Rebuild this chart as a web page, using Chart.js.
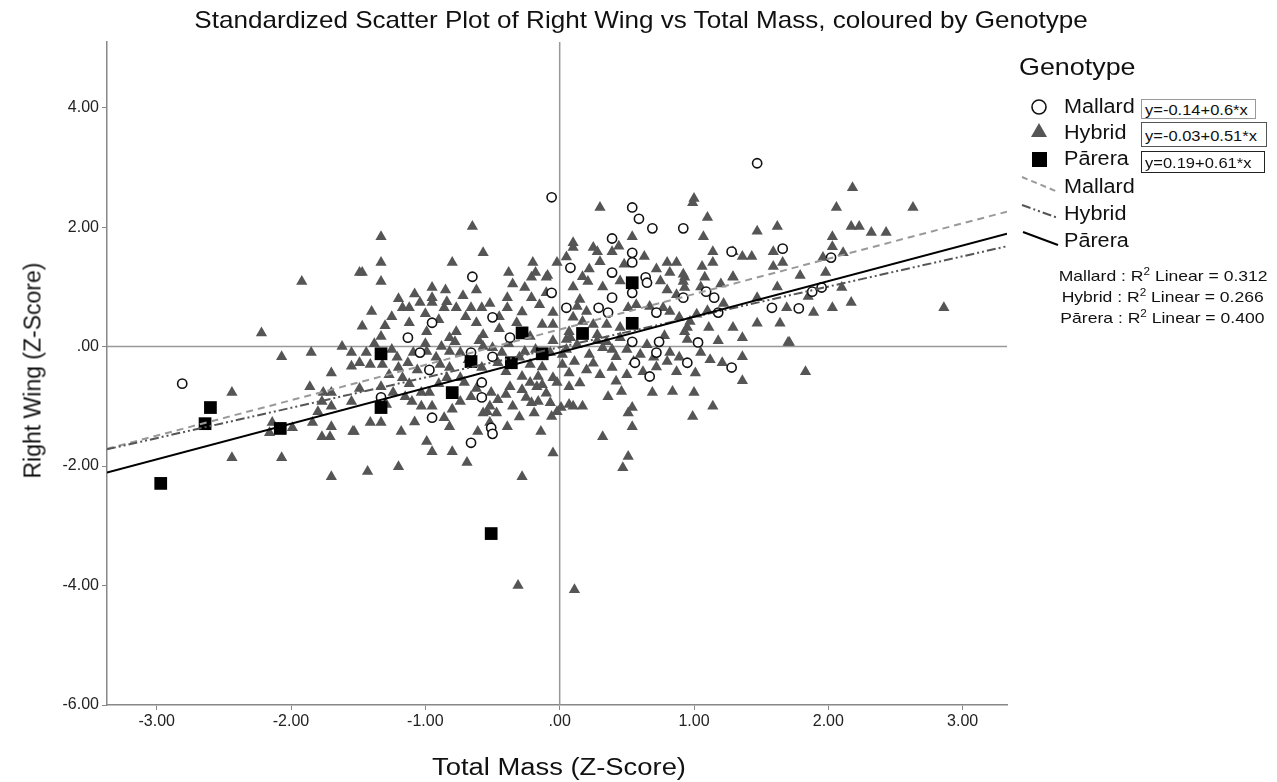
<!DOCTYPE html>
<html>
<head>
<meta charset="utf-8">
<script src="https://cdn.jsdelivr.net/npm/chart.js@4/dist/chart.umd.min.js"></script>
<style>
  html, body { margin: 0; padding: 0; background: #fff; }
  #wrap { position: relative; width: 1277px; height: 782px; font-family: "Liberation Sans", Arial, sans-serif; color: #111; }
  #chart { position: absolute; left: 0; top: 0; }
  .txt { position: absolute; white-space: nowrap; }
  .lg { position: absolute; white-space: nowrap; font-size: 20px; transform: scaleX(1.08); transform-origin: left center; }
  .eq { position: absolute; box-sizing: border-box; background: #fff; }
  .eq span { position: absolute; left: 3px; top: 50%; font-size: 15px; white-space: nowrap; transform: translateY(-50%) scaleX(1.1); transform-origin: left center; }
  .r2 { position: absolute; white-space: nowrap; font-size: 15px; transform: scaleX(1.17); transform-origin: right center; }
</style>
</head>
<body>
<div id="wrap">
  <canvas id="chart" width="1277" height="782"></canvas>

  <div class="txt" style="left:0; width:1282px; top:6px; text-align:center; font-size:24px; transform:scaleX(1.086);">Standardized Scatter Plot of Right Wing vs Total Mass, coloured by Genotype</div>
  <div class="txt" style="left:419px; width:280px; top:754px; text-align:center; font-size:23px; transform:scaleX(1.19);">Total Mass (Z-Score)</div>
  <div class="txt" style="left:-107px; width:280px; top:357px; text-align:center; font-size:23px; transform:rotate(-90deg);">Right Wing (Z-Score)</div>

  <!-- legend -->
  <div class="txt" style="left:1019px; top:53px; font-size:24px; transform:scaleX(1.12); transform-origin:left center;">Genotype</div>
  <svg style="position:absolute; left:1015px; top:95px;" width="50" height="155">
    <circle cx="24" cy="12" r="7" fill="#fff" stroke="#111" stroke-width="1.6"/>
    <polygon points="24,28 32,42 16,42" fill="#555"/>
    <rect x="17" y="57" width="15" height="15" fill="#000"/>
    <line x1="7" y1="82" x2="43" y2="97" stroke="#999" stroke-width="2" stroke-dasharray="6,4"/>
    <line x1="7" y1="110" x2="43" y2="123" stroke="#555" stroke-width="2" stroke-dasharray="9,3,2,3,2,3"/>
    <line x1="8" y1="137" x2="43" y2="150" stroke="#000" stroke-width="2"/>
  </svg>
  <div class="lg" style="left:1064px; top:95px;">Mallard</div>
  <div class="lg" style="left:1064px; top:121px;">Hybrid</div>
  <div class="lg" style="left:1064px; top:147px;">Pārera</div>
  <div class="lg" style="left:1064px; top:175px;">Mallard</div>
  <div class="lg" style="left:1064px; top:202px;">Hybrid</div>
  <div class="lg" style="left:1064px; top:229px;">Pārera</div>
  <div class="eq" style="left:1141px; top:99px; width:115px; height:20px; border:1.5px solid #999;"><span>y=-0.14+0.6*x</span></div>
  <div class="eq" style="left:1141px; top:122px; width:126px; height:25px; border:1.5px solid #555;"><span>y=-0.03+0.51*x</span></div>
  <div class="eq" style="left:1141px; top:151px; width:124px; height:22px; border:1.5px solid #222;"><span>y=0.19+0.61*x</span></div>
  <div class="r2" style="right:9px; top:266px;">Mallard : R<sup style="font-size:10px;">2</sup> Linear = 0.312</div>
  <div class="r2" style="right:13px; top:287px;">Hybrid : R<sup style="font-size:10px;">2</sup> Linear = 0.266</div>
  <div class="r2" style="right:13px; top:308px;">Pārera : R<sup style="font-size:10px;">2</sup> Linear = 0.400</div>
</div>

<script>
// axis ticks
const xTicks = [-3, -2, -1, 0, 1, 2, 3];
const yTicks = [-6, -4, -2, 0, 2, 4];

// Mallard (open circles) - [total mass z, right wing z]
const mallard = [
  [-2.81, -0.62], [-0.06, 2.50], [-0.65, 1.17], [0.08, 1.32], [-0.06, 0.90], [0.05, 0.65],
  [-0.50, 0.49], [-0.95, 0.40], [-0.37, 0.15], [-1.13, 0.15], [-1.04, -0.10], [-0.66, -0.10],
  [-0.50, -0.17], [-0.97, -0.39], [-1.33, -0.85], [-0.58, -0.85], [-0.95, -1.19], [-0.51, -1.36],
  [-0.50, -1.46], [-0.66, -1.61], [-0.58, -0.60], [1.47, 3.07], [0.54, 2.33], [0.59, 2.14],
  [0.69, 1.98], [0.92, 1.98], [0.39, 1.81], [0.54, 1.57], [0.54, 1.41], [0.39, 1.24],
  [1.66, 1.64], [1.28, 1.59], [0.64, 1.16], [0.65, 1.07], [0.54, 0.90], [0.39, 0.82],
  [0.29, 0.65], [0.36, 0.57], [0.72, 0.57], [0.92, 0.82], [1.09, 0.92], [1.15, 0.82],
  [1.18, 0.57], [1.58, 0.65], [0.54, 0.08], [0.74, 0.08], [1.03, 0.07], [0.72, -0.10],
  [0.56, -0.27], [0.95, -0.27], [1.28, -0.35], [0.67, -0.50], [2.02, 1.49], [1.88, 0.92],
  [1.95, 0.99], [1.78, 0.64]
];

// Hybrid (grey triangles)
const hybrid = [
  [-1.92, 1.09], [-2.22, 0.23], [-2.07, -0.17], [-1.85, -0.10], [-1.62, 0.00], [-1.55, -0.33],
  [-1.70, -0.44], [-2.44, -0.77], [-1.86, -0.67], [-1.76, -0.77], [-1.70, -0.77], [-1.77, -0.92],
  [-1.70, -1.00], [-1.55, -0.92], [-1.80, -1.09], [-1.84, -1.27], [-2.14, -1.27], [-1.99, -1.36],
  [-2.16, -1.44], [-1.77, -1.51], [-1.71, -1.51], [-1.70, -1.34], [-1.54, -1.42], [-2.44, -1.86],
  [-2.07, -1.86], [-1.70, -2.18],
  [-1.33, 1.84], [-1.33, 1.41], [-1.47, 1.24], [-1.49, 1.24], [-0.65, 2.01], [-0.57, 1.57],
  [-0.80, 1.41], [-0.38, 1.24], [-0.20, 1.41], [-0.18, 1.24], [-0.09, 1.19], [-0.02, 1.41],
  [0.10, 1.74], [0.10, 1.66],
  [-1.33, 1.09], [-0.95, 0.99], [-0.95, 0.82], [-0.95, 0.74], [-1.04, 0.74], [-1.17, 0.65],
  [-1.12, 0.65], [-1.40, 0.59], [-1.25, 0.50], [-1.47, 0.34], [-1.33, 0.17], [-0.84, 0.75],
  [-0.77, 0.65], [-0.86, 0.65], [-0.66, 0.65], [-0.58, 0.65], [-0.39, 0.82], [-0.39, 0.65],
  [-0.21, 0.82], [-0.26, 0.99], [-0.10, 1.16], [-0.21, 1.16], [-0.62, 0.40], [-0.77, 0.25],
  [-0.82, 0.15], [-0.99, 0.25], [-0.57, 0.20], [-0.13, 0.37], [-0.05, 0.37], [-0.05, 0.57],
  [0.07, 0.25], [-0.22, 0.17], [-1.55, -0.10], [-1.44, -0.10], [-1.21, -0.18], [-1.09, -0.10],
  [-0.99, -0.08], [-0.88, 0.00], [-0.82, -0.08], [-0.74, -0.10], [-0.57, 0.00], [-0.50, -0.02],
  [-0.43, -0.10], [-0.26, -0.08], [-0.07, -0.10], [0.02, -0.13], [-1.49, -0.27], [-1.41, -0.30],
  [-1.32, -0.30], [-1.13, -0.27], [-1.06, -0.39], [-0.89, -0.30], [-0.82, -0.35], [-0.58, -0.35],
  [-0.46, -0.27], [-0.22, -0.30], [-0.13, -0.34], [0.02, -0.30], [0.07, -0.44], [-1.27, -0.47],
  [-1.17, -0.52], [-0.84, -0.52], [-0.74, -0.52], [-0.28, -0.50], [-0.16, -0.50], [-0.05, -0.52],
  [-1.49, -0.70], [-1.33, -0.67], [-1.24, -0.77], [-1.15, -0.84], [-1.03, -0.77], [-0.97, -0.77],
  [-0.71, -0.60], [-0.66, -0.84], [-0.51, -0.77], [-0.46, -0.89], [-0.37, -0.67], [-0.28, -0.72],
  [-0.22, -0.60], [-0.17, -0.67], [-0.13, -0.64], [-0.02, -0.60], [0.07, -0.67], [-1.29, -0.97],
  [-1.10, -0.92], [-1.03, -1.00], [-0.74, -0.92], [-0.52, -1.00], [-0.35, -1.00], [-0.21, -0.94],
  [-0.16, -0.92], [-0.07, -0.94], [0.01, -1.02], [0.07, -0.97], [-1.41, -1.27], [-1.33, -1.27],
  [-1.08, -1.26], [-0.86, -1.19], [-0.82, -1.34], [-0.57, -1.11], [-0.54, -1.09], [-0.47, -1.11],
  [-0.52, -1.27], [-0.19, -1.11], [-0.06, -1.17], [-0.02, -1.09], [-1.18, -1.42], [-1.53, -1.42],
  [-0.99, -1.59], [-0.95, -1.76], [-0.80, -1.76], [-0.69, -1.94], [-0.61, -1.42], [-0.39, -1.34],
  [-0.14, -1.42], [-0.05, -1.78], [-1.43, -2.09], [-1.20, -2.01], [-0.28, -2.18],
  [0.30, 2.33], [1.00, 2.48], [0.99, 2.41], [1.10, 2.16], [1.07, 1.84], [1.47, 1.93],
  [1.62, 2.01], [0.54, 1.84], [0.25, 1.66], [0.28, 1.59], [0.44, 1.68], [0.39, 1.59],
  [0.63, 1.51], [0.80, 1.41], [0.87, 1.41], [1.14, 1.59], [1.14, 1.41], [1.29, 1.59],
  [1.36, 1.51], [1.43, 1.51], [1.59, 1.59], [1.59, 1.34], [1.66, 1.41], [1.06, 1.34],
  [0.82, 1.24], [0.92, 1.21], [0.17, 1.17], [1.29, 1.17],
  [0.10, 1.00], [0.21, 1.09], [0.15, 0.79], [0.13, 0.67], [0.20, 0.59], [0.10, 0.49],
  [0.17, 0.42], [0.25, 0.37], [0.51, 0.65], [0.57, 0.70], [0.67, 0.67], [0.77, 0.65],
  [0.87, 0.87], [0.92, 1.09], [0.93, 0.99], [0.82, 0.59], [0.89, 0.49], [0.97, 0.42],
  [1.02, 0.54], [0.95, 0.32], [0.35, 0.37], [0.45, 0.32], [0.28, 0.20], [0.35, 0.08],
  [0.39, -0.05], [0.13, 0.03], [0.22, -0.13], [0.32, -0.02], [0.42, -0.17], [0.50, -0.05],
  [0.60, -0.13], [0.65, 0.03], [0.82, -0.10], [0.89, -0.18], [0.11, -0.25], [0.20, -0.39],
  [0.30, -0.47], [0.39, -0.35], [0.50, -0.47], [0.62, -0.42], [0.72, -0.34], [0.80, -0.25],
  [0.87, -0.42], [1.21, -0.27], [1.12, -0.22], [1.01, -0.44], [1.36, -0.57],
  [1.47, 0.39], [1.64, 0.39], [1.29, 0.32], [1.36, 0.15], [1.70, 0.07], [1.69, 0.65],
  [1.47, 0.82], [1.62, 1.00], [1.29, 1.16], [1.08, 1.16], [0.93, 1.16], [1.36, -0.17],
  [0.93, 0.25], [1.11, 0.32],
  [0.69, -0.77], [0.84, -0.75], [1.00, -0.77], [1.14, -1.00], [0.99, -1.17], [0.36, -0.84],
  [0.17, -1.00], [0.10, -1.00], [0.54, -1.02], [0.51, -1.11], [0.54, -1.34], [0.32, -1.51],
  [0.51, -1.84], [0.47, -2.03], [0.46, -0.75], [0.15, -0.61],
  [2.18, 2.66], [2.06, 2.33], [2.63, 2.33], [2.17, 2.01], [2.23, 2.01], [2.32, 1.91],
  [2.43, 1.91], [2.03, 1.84], [2.03, 1.67], [2.11, 1.57], [1.96, 1.49], [1.79, 1.19],
  [1.98, 1.24], [2.10, 0.99], [2.17, 0.74], [2.03, 0.65], [1.89, 0.57], [1.85, 0.84],
  [2.86, 0.65], [1.71, 0.07], [1.83, -0.42],
  [-0.31, -4.00], [0.11, -4.07],
  // dense core, estimated
  [-1.20, 0.80], [-1.08, 0.88], [-1.00, 0.55], [-0.90, 0.45], [-0.72, 0.85], [-0.70, 0.50],
  [-0.52, 0.72], [-0.45, 0.50], [-1.30, 0.35], [-1.12, 0.40], [-0.62, 0.95], [-0.85, 0.95],
  [-0.32, 0.40], [-0.28, 0.58], [-0.15, 0.70], [-0.45, 0.30], [-0.10, 0.90], [-0.35, 1.05],
  [0.22, 1.30], [0.32, 1.00], [0.45, 1.10], [0.30, 1.42], [0.05, 1.50], [0.48, 1.38],
  [0.75, 1.10], [0.80, 0.95], [1.05, 1.00], [1.20, 1.05], [0.72, 1.30], [1.22, 0.72],
  [1.10, 0.60], [-1.38, 0.05], [-1.25, -0.05], [-1.00, 0.05], [-0.92, -0.18], [-0.68, -0.22],
  [-0.60, 0.10], [-1.20, -0.35], [-0.78, 0.08], [-0.38, 0.05], [-0.30, -0.18], [-0.18, -0.05],
  [-0.05, 0.10], [-0.40, -0.42], [0.05, 0.12], [0.05, -0.05], [0.28, 0.10], [0.45, 0.15],
  [0.25, -0.28], [0.55, -0.25], [0.42, -0.58], [0.08, 0.15], [-1.12, -0.62], [-0.90, -0.62],
  [-0.80, -1.05], [-0.62, -0.70], [-0.40, -0.80], [-0.25, -0.85], [-0.10, -0.78], [-0.95, -1.00],
  [-0.30, -1.18], [0.70, -0.18], [0.95, 0.12], [1.05, -0.10], [0.78, 0.18], [1.18, 0.10]
];

// Pārera (black squares)
const parera = [
  [-2.97, -2.29], [-2.64, -1.29], [-2.60, -1.02], [-2.08, -1.37], [-1.33, -0.12], [-1.33, -1.02],
  [-0.80, -0.77], [-0.51, -3.13], [-0.66, -0.25], [-0.36, -0.27], [-0.28, 0.23], [-0.13, -0.12],
  [0.17, 0.22], [0.54, 1.07], [0.54, 0.39]
];

// fit lines, end points at the plot edges
const fitX = [-3.37, 3.33];
const mallardFitY = [-1.71, 2.26];
const hybridFitY = [-1.72, 1.68];
const pareraFitY = [-2.11, 1.89];

const xRange = [-3.37, 3.33];
const yRange = [-6, 5.1];

const toPts = arr => arr.map(p => ({ x: p[0], y: p[1] }));
const fitPts = ys => fitX.map((x, i) => ({ x: x, y: ys[i] }));
const fmt = v => (v === 0 ? '.00' : v.toFixed(2));

const lineDs = (label, ys, color, dash) => ({
  type: 'line', label: label, data: fitPts(ys),
  borderColor: color, borderWidth: 2, borderDash: dash,
  pointRadius: 0, fill: false
});

new Chart(document.getElementById('chart').getContext('2d'), {
  type: 'scatter',
  data: {
    datasets: [
      lineDs('Pārera fit', pareraFitY, '#000', []),
      lineDs('Hybrid fit', hybridFitY, '#555', [9, 3, 2, 3, 2, 3]),
      lineDs('Mallard fit', mallardFitY, '#999', [7, 5]),
      {
        label: 'Pārera', data: toPts(parera), pointStyle: 'rect',
        pointRadius: 9, backgroundColor: '#000', borderColor: '#000', borderWidth: 0
      },
      {
        label: 'Mallard', data: toPts(mallard), pointStyle: 'circle',
        pointRadius: 4.6, backgroundColor: '#fff', borderColor: '#111', borderWidth: 1.6
      },
      {
        label: 'Hybrid', data: toPts(hybrid), pointStyle: 'triangle',
        pointRadius: 6.5, backgroundColor: '#555', borderColor: '#555', borderWidth: 0
      },
      // reference lines at zero
      {
        type: 'line', label: 'x0', data: [{ x: 0, y: yRange[0] }, { x: 0, y: yRange[1] }],
        borderColor: '#999', borderWidth: 1.5, pointRadius: 0
      },
      {
        type: 'line', label: 'y0', data: [{ x: xRange[0], y: 0 }, { x: xRange[1], y: 0 }],
        borderColor: '#999', borderWidth: 1.5, pointRadius: 0
      }
    ]
  },
  options: {
    responsive: false,
    animation: false,
    layout: { padding: { top: 42, right: 270, bottom: 32, left: 0 } },
    plugins: { legend: { display: false }, tooltip: { enabled: false }, title: { display: false } },
    scales: {
      x: {
        type: 'linear', min: xRange[0], max: xRange[1],
        afterBuildTicks: axis => { axis.ticks = xTicks.map(v => ({ value: v })); },
        afterFit: axis => { axis.height = 45; },
        grid: { display: true, drawOnChartArea: false, drawTicks: true, tickLength: 5, color: '#888' },
        border: { display: true, color: '#888', width: 1.5 },
        ticks: { color: '#222', font: { family: 'Liberation Sans', size: 16 }, padding: 2, maxRotation: 0, callback: v => fmt(v) }
      },
      y: {
        type: 'linear', min: yRange[0], max: yRange[1],
        afterBuildTicks: axis => { axis.ticks = yTicks.map(v => ({ value: v })); },
        afterFit: axis => { axis.width = 107; },
        grid: { display: true, drawOnChartArea: false, drawTicks: true, tickLength: 5, color: '#888' },
        border: { display: true, color: '#888', width: 1.5 },
        ticks: { color: '#222', font: { family: 'Liberation Sans', size: 16 }, padding: 3, callback: v => fmt(v) }
      }
    }
  }
});
</script>
</body>
</html>
